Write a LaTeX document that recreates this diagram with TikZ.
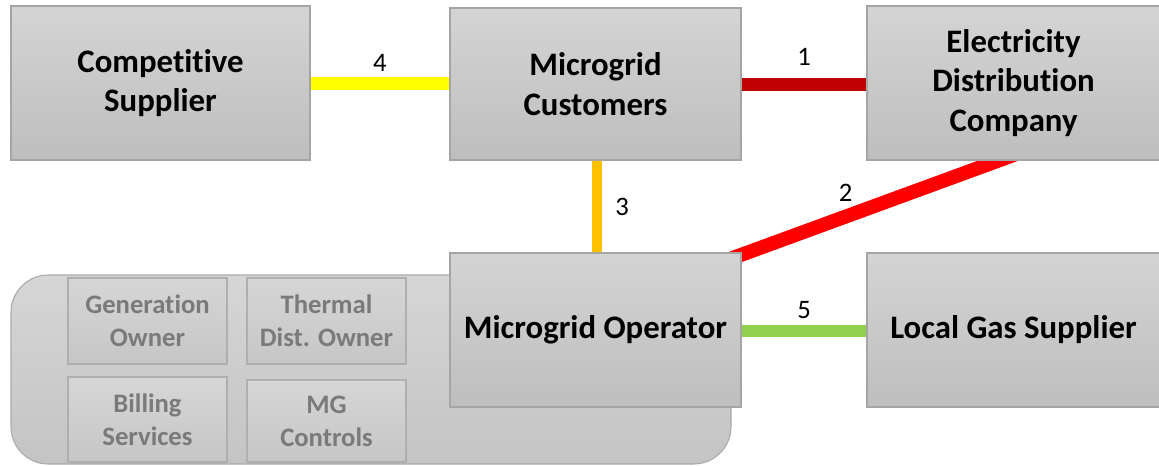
\documentclass[tikz,border=0pt]{standalone}
\usepackage{fontspec}
\setmainfont[Ligatures={NoCommon}]{Carlito}
\usetikzlibrary{calc}
\definecolor{boxtop}{RGB}{212,212,212}
\definecolor{boxbot}{RGB}{190,190,190}
\definecolor{boxline}{RGB}{165,165,165}
\definecolor{bgtop}{RGB}{214,214,214}
\definecolor{bgbot}{RGB}{196,196,196}
\definecolor{bgline}{RGB}{170,170,170}
\definecolor{intop}{RGB}{214,214,214}
\definecolor{inbot}{RGB}{198,198,198}
\definecolor{inline}{RGB}{175,175,175}
\definecolor{intext}{RGB}{122,122,122}
\definecolor{cyellow}{RGB}{255,255,0}
\definecolor{cdarkred}{RGB}{192,0,0}
\definecolor{corange}{RGB}{255,192,0}
\definecolor{cred}{RGB}{255,0,0}
\definecolor{cgreen}{RGB}{146,208,80}
\pgfdeclarelayer{bg}
\pgfdeclarelayer{lines}
\pgfsetlayers{bg,lines,main}
\tikzset{
  mainbox/.style={draw=boxline, line width=0.9pt, top color=boxtop, bottom color=boxbot,
    inner sep=0pt, align=center, font=\fontsize{24.6}{29.6}\selectfont\bfseries},
  innerbox/.style={draw=inline, line width=0.8pt, top color=intop, bottom color=inbot,
    inner sep=0pt, align=center, text=intext, font=\fontsize{20}{24.75}\selectfont\bfseries},
  conn/.style={line cap=butt},
  lbl/.style={font=\fontsize{20}{23}\selectfont, inner sep=1pt}
}
\begin{document}
\begin{tikzpicture}[x=0.75pt, y=-0.75pt]
\useasboundingbox (0,0) rectangle (1159,465);
% background rounded block
\begin{pgfonlayer}{bg}
\shade[top color=bgtop, bottom color=bgbot, rounded corners=28pt] (11,275) rectangle (731,464);
\draw[bgline, line width=0.8pt, rounded corners=28pt] (11,275) rectangle (731,464);
\end{pgfonlayer}
% inner boxes
\node[innerbox, minimum width={159*0.75pt}, minimum height={86*0.75pt}] (gen) at (147.5,321) {Generation\\Owner};
\node[innerbox, minimum width={159*0.75pt}, minimum height={86*0.75pt}] (thm) at (326.5,321) {Thermal\\Dist. Owner};
\node[innerbox, minimum width={159*0.75pt}, minimum height={85*0.75pt}] (bil) at (147.5,419.5) {Billing\\Services};
\node[innerbox, minimum width={159*0.75pt}, minimum height={82*0.75pt}] (mgc) at (326.5,421) {MG\\Controls};
% main boxes
\node[mainbox, minimum width={299*0.75pt}, minimum height={154*0.75pt}] (cs) at (160.5,83) {Competitive\\Supplier};
\node[mainbox, minimum width={291*0.75pt}, minimum height={152*0.75pt}] (mc) at (595.5,84) {Microgrid\\Customers};
\node[mainbox, minimum width={293*0.75pt}, minimum height={154*0.75pt}] (edc) at (1013.5,83) {Electricity\\Distribution\\Company};
\node[mainbox, minimum width={291*0.75pt}, minimum height={154*0.75pt}] (op) at (595.5,330) {Microgrid Operator};
\node[mainbox, minimum width={293*0.75pt}, minimum height={154*0.75pt}] (gas) at (1013.5,330) {Local Gas Supplier};
% connectors
\begin{pgfonlayer}{lines}
\draw[conn, cyellow, line width={13*0.75pt}] (cs.east) -- node[lbl, text=black, yshift={20*0.75pt}] (l4) {4} (cs.east -| mc.west);
\draw[conn, cdarkred, line width={13*0.75pt}] (mc.east) -- node[lbl, text=black, yshift={27*0.75pt}] (l1) {1} (mc.east -| edc.west);
\draw[conn, corange, line width={10*0.75pt}] ([xshift={1.5*0.75pt}]mc.south) -- node[lbl, text=black, xshift={25*0.75pt}] (l3) {3} ([xshift={1.5*0.75pt}]op.north);
\draw[conn, cgreen, line width={12*0.75pt}] ([yshift={-1*0.75pt}]op.east) -- node[lbl, text=black, yshift={21*0.75pt}] (l5) {5} ([yshift={-1*0.75pt}]op.east -| gas.west);
\draw[conn, cred, line width={14*0.75pt}] ($(op.north east)+(-32,14)$) -- node[lbl, text=black, pos=0.434, yshift={23.5*0.75pt}] (l2) {2} ($(edc.south)+(9.5,-9)$);
\end{pgfonlayer}
\end{tikzpicture}
\end{document}
